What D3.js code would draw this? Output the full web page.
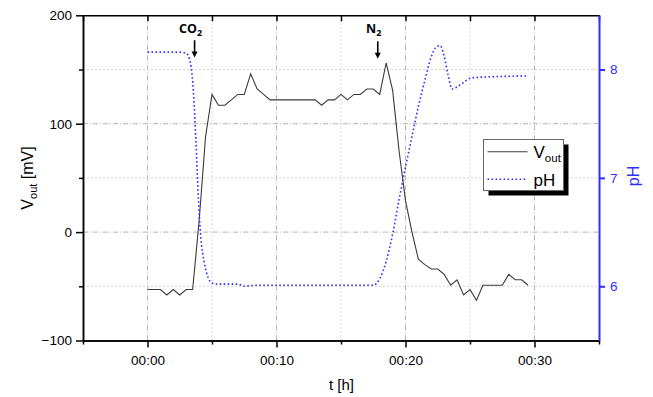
<!DOCTYPE html>
<html>
<head>
<meta charset="utf-8">
<script src="https://cdn.jsdelivr.net/npm/d3@7/dist/d3.min.js"></script>
<style>
  html, body { margin: 0; padding: 0; background: #fff; }
  svg { display: block; font-family: "Liberation Sans", Arial, sans-serif; }
</style>
</head>
<body>
<svg id="chart" width="653" height="397"></svg>
<script>
// ---------------- data ----------------
const vTime = [0,0.5,1,1.5,2,2.5,3,3.5,4,4.5,5,5.5,6,6.5,7,7.5,8,8.5,9,9.5,
  10,10.5,11,11.5,12,12.5,13,13.5,14,14.5,15,15.5,16,16.5,17,17.5,18,18.5,19,19.5,
  20,20.5,21,21.5,22,22.5,23,23.5,24,24.5,25,25.5,26,26.5,27,27.5,28,28.5,29,29.5];
const vValues = [-53,-53,-53,-58,-53,-58,-53,-53,10,88,127,117,117,122,127,127,146,132,127,122,
  122,122,122,122,122,122,122,117,122,122,127,122,127,127,132,132,127,156,131,75,
  29,0,-25,-30,-34,-34,-39,-49,-44,-58,-53,-63,-49,-49,-49,-49,-39,-44,-44,-49];

const phTime = [0,2.5,3.0,3.25,3.6,3.75,3.95,4.1,4.4,4.7,5.0,5.5,7.0,7.5,8.5,17.5,18.0,18.5,19.0,19.5,
  20.0,20.5,21.0,21.5,22.0,22.4,22.7,23.0,23.3,23.6,24.0,24.5,25.0,26.0,29.5];
const phValues = [8.16,8.16,8.15,8.10,7.72,7.35,6.80,6.50,6.22,6.08,6.03,6.02,6.02,6.00,6.01,6.01,6.07,6.23,6.48,6.80,
  7.10,7.38,7.66,7.90,8.12,8.21,8.22,8.12,7.95,7.82,7.84,7.88,7.92,7.93,7.94];

const xDomain = [-5, 35];
const xMajorTicks = [0, 10, 20, 30];
const xTickLabels = ["00:00", "00:10", "00:20", "00:30"];
const xMinorTicks = [-5, 5, 15, 25, 35];
const yDomain = [-100, 200];
const yMajorTicks = [-100, 0, 100, 200];
const yMinorTicks = [-50, 50, 150];
const phDomain = [5.5, 8.5];
const phTicks = [6, 7, 8];
const phTickLabels = ["6", "7", "8"];

const annLabels = ["CO", "N"];
const annSubs = ["2", "2"];
const annTime = [3.65, 17.85];
const annTipV = [161, 160];
const annTailV = [177, 176];

// ---------------- layout ----------------
const svg = d3.select("#chart");
const L = 83, R = 599, T = 15.3, B = 340.5;
const blue = "#2f2fff";

const x = d3.scaleLinear().domain(xDomain).range([L, R]);
const y = d3.scaleLinear().domain(yDomain).range([B, T]);
const yPH = d3.scaleLinear().domain(phDomain).range([B, T]);

// grid
const grid = svg.append("g");
xMinorTicks.filter(d => d > xDomain[0] && d < xDomain[1]).forEach(d => {
  grid.append("line").attr("x1", x(d)).attr("x2", x(d)).attr("y1", T).attr("y2", B)
    .attr("stroke", "#d4d4d4").attr("stroke-width", 1).attr("stroke-dasharray", "2,2");
});
xMajorTicks.forEach(d => {
  grid.append("line").attr("x1", x(d)).attr("x2", x(d)).attr("y1", T).attr("y2", B)
    .attr("stroke", "#b4b4b4").attr("stroke-width", 1).attr("stroke-dasharray", "5,2,1,2");
});
yMinorTicks.forEach(d => {
  grid.append("line").attr("x1", L).attr("x2", R).attr("y1", y(d)).attr("y2", y(d))
    .attr("stroke", "#d4d4d4").attr("stroke-width", 1).attr("stroke-dasharray", "2,2");
});
yMajorTicks.filter(d => d > yDomain[0] && d < yDomain[1]).forEach(d => {
  grid.append("line").attr("x1", L).attr("x2", R).attr("y1", y(d)).attr("y2", y(d))
    .attr("stroke", "#b4b4b4").attr("stroke-width", 1).attr("stroke-dasharray", "5,2,1,2");
});

// data lines
const vData = vTime.map((t, i) => [t, vValues[i]]);
const phData = phTime.map((t, i) => [t, phValues[i]]);

svg.append("path").datum(vData)
  .attr("fill", "none").attr("stroke", "#3a3a3a").attr("stroke-width", 1.1)
  .attr("d", d3.line().x(d => x(d[0])).y(d => y(d[1])));

svg.append("path").datum(phData)
  .attr("fill", "none").attr("stroke", blue).attr("stroke-width", 1.6)
  .attr("stroke-dasharray", "1.6,2.4")
  .attr("d", d3.line().curve(d3.curveMonotoneX).x(d => x(d[0])).y(d => yPH(d[1])));

// axes
function styleAxis(g, color, width) {
  g.select(".domain").attr("stroke", color).attr("stroke-width", width);
  g.selectAll(".tick line").attr("stroke", color).attr("stroke-width", width);
  g.selectAll(".tick text").attr("fill", color).attr("font-size", 13.5)
    .attr("font-family", "'Liberation Sans', Arial, sans-serif");
}

// bottom
const gxMinor = svg.append("g").attr("transform", `translate(0,${B})`)
  .call(d3.axisBottom(x).tickValues(xMinorTicks).tickSizeInner(4).tickSizeOuter(0).tickFormat(""));
styleAxis(gxMinor, "#000", 1.5);
const gx = svg.append("g").attr("transform", `translate(0,${B})`)
  .call(d3.axisBottom(x).tickValues(xMajorTicks).tickSizeInner(7).tickSizeOuter(0).tickPadding(8)
    .tickFormat((d, i) => xTickLabels[i]));
styleAxis(gx, "#000", 1.5);

// top (mirror, inward ticks)
const gtop = svg.append("g").attr("transform", `translate(0,${T})`)
  .call(d3.axisTop(x).tickValues(xMajorTicks.concat(xMinorTicks)).tickSizeInner(-6).tickSizeOuter(0).tickFormat(""));
styleAxis(gtop, "#000", 1.5);

// left
const gyMinor = svg.append("g").attr("transform", `translate(${L},0)`)
  .call(d3.axisLeft(y).tickValues(yMinorTicks).tickSizeInner(4).tickSizeOuter(0).tickFormat(""));
styleAxis(gyMinor, "#000", 1.5);
const gy = svg.append("g").attr("transform", `translate(${L},0)`)
  .call(d3.axisLeft(y).tickValues(yMajorTicks).tickSizeInner(7).tickSizeOuter(0).tickPadding(4));
styleAxis(gy, "#000", 1.5);

// right (pH)
const gph = svg.append("g").attr("transform", `translate(${R},0)`)
  .call(d3.axisRight(yPH).tickValues(phTicks).tickSizeInner(6).tickSizeOuter(0).tickPadding(5)
    .tickFormat((d, i) => phTickLabels[i]));
styleAxis(gph, blue, 2);

// axis titles
svg.append("text").attr("x", 341.5).attr("y", 389.5).attr("text-anchor", "middle")
  .attr("font-size", 15).attr("fill", "#000").text("t [h]");

const yt = svg.append("text")
  .attr("transform", "translate(33,178) rotate(-90)")
  .attr("text-anchor", "middle").attr("font-size", 16).attr("fill", "#000");
yt.append("tspan").text("V");
yt.append("tspan").attr("font-size", 11).attr("dy", 4).text("out");
yt.append("tspan").attr("dy", -4).text(" [mV]");

svg.append("text")
  .attr("transform", "translate(639,176) rotate(-90)")
  .attr("text-anchor", "middle").attr("font-size", 16).attr("fill", blue).text("pH");

// annotations
annLabels.forEach((lab, i) => {
  const ax = x(annTime[i]);
  const t = svg.append("text").attr("x", ax - 4).attr("y", 33.3)
    .attr("text-anchor", "middle").attr("font-size", 12.5).attr("font-weight", "bold")
    .attr("font-family", "'Open Sans', 'Liberation Sans', Arial, sans-serif").attr("fill", "#000");
  t.append("tspan").text(lab);
  t.append("tspan").attr("font-size", 9).attr("dy", 3).text(annSubs[i]);
  const yTail = y(annTailV[i]), yTip = y(annTipV[i]);
  svg.append("line").attr("x1", ax).attr("x2", ax).attr("y1", yTail).attr("y2", yTip - 5)
    .attr("stroke", "#000").attr("stroke-width", 1.6);
  svg.append("path")
    .attr("d", `M${ax - 3},${yTip - 6} L${ax + 3},${yTip - 6} L${ax},${yTip} Z`)
    .attr("fill", "#000");
});

// legend
const lg = svg.append("g");
const lx = 483.5, ly = 139.5, lw = 80, lh = 51;
lg.append("rect").attr("x", lx + 5).attr("y", ly + 5).attr("width", lw).attr("height", lh).attr("fill", "#000");
lg.append("rect").attr("x", lx).attr("y", ly).attr("width", lw).attr("height", lh)
  .attr("fill", "#fff").attr("stroke", "#666").attr("stroke-width", 1);
lg.append("line").attr("x1", lx + 4).attr("x2", lx + 44).attr("y1", 151.7).attr("y2", 151.7)
  .attr("stroke", "#3a3a3a").attr("stroke-width", 1.1);
lg.append("line").attr("x1", lx + 4).attr("x2", lx + 44).attr("y1", 179.3).attr("y2", 179.3)
  .attr("stroke", blue).attr("stroke-width", 1.6).attr("stroke-dasharray", "1.6,2.4");
const lt1 = lg.append("text").attr("x", lx + 50).attr("y", 157.5).attr("font-size", 17).attr("fill", "#000");
lt1.append("tspan").text("V");
lt1.append("tspan").attr("font-size", 11.5).attr("dy", 4).text("out");
lg.append("text").attr("x", lx + 50).attr("y", 185.5).attr("font-size", 17).attr("fill", "#000").text("pH");
</script>
</body>
</html>
